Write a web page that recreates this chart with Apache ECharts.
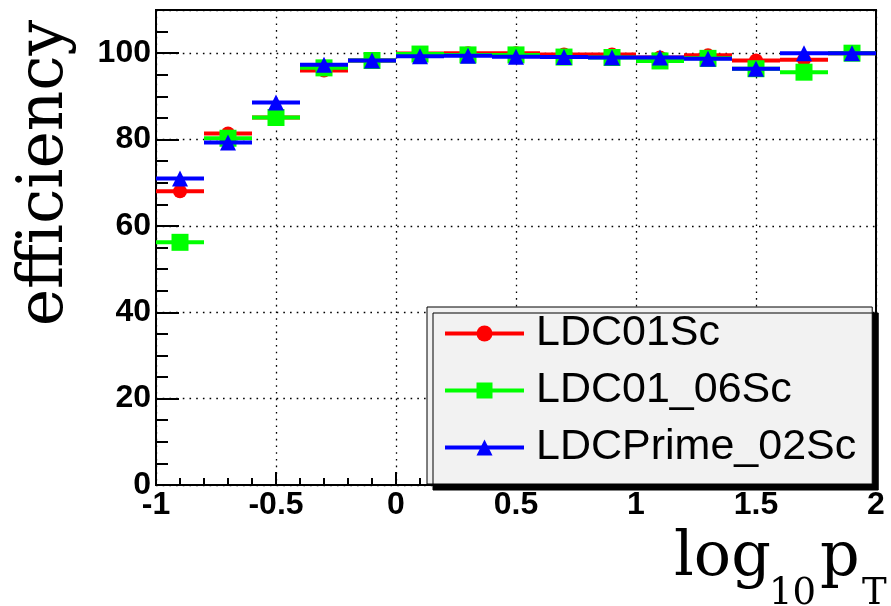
<!DOCTYPE html>
<html>
<head>
<meta charset="utf-8">
<script src="https://cdn.jsdelivr.net/npm/echarts@6/dist/echarts.min.js"></script>
<style>
  html, body { margin: 0; padding: 0; background: #fff; }
  #chart { width: 891px; height: 606px; }
</style>
</head>
<body>
<div id="chart"></div>
<script>
// Bin centres of log10(pT); every bin is 0.2 wide
const binCenters = [-0.9, -0.7, -0.5, -0.3, -0.1, 0.1, 0.3, 0.5, 0.7, 0.9, 1.1, 1.3, 1.5, 1.7, 1.9];
const binHalfWidth = 0.1;

// Efficiency (%) per bin for each detector model
const effLDC01Sc      = [68.0, 81.4, 85.1, 96.0, 98.3, 99.9, 100.0, 100.0, 99.7, 99.7, 99.0, 99.5, 98.3, 98.5, 100.0];
const effLDC01_06Sc   = [56.2, 80.3, 85.1, 96.6, 98.3, 99.8, 99.6, 99.6, 99.1, 99.0, 98.2, 98.8, 96.4, 95.6, 100.0];
const effLDCPrime02Sc = [71.0, 79.3, 88.6, 97.3, 98.3, 99.3, 99.4, 99.2, 99.1, 99.0, 99.0, 98.7, 96.4, 100.0, 100.0];

const seriesNames = ['LDC01Sc', 'LDC01_06Sc', 'LDCPrime_02Sc'];
const seriesValues = [effLDC01Sc, effLDC01_06Sc, effLDCPrime02Sc];
const seriesColors = ['#ff0000', '#00ff00', '#0000ff'];
const seriesSymbols = ['circle', 'rect', 'triangle'];
const seriesSymbolSizes = [14, 17, 16];

const xTickLabels = ['-1', '-0.5', '0', '0.5', '1', '1.5', '2'];
const yTickLabels = ['0', '20', '40', '60', '80', '100'];

// Each bin becomes a horizontal segment (x error bar) with the marker at its centre;
// an empty point after each bin keeps neighbouring bins unconnected.
function binSegments(values) {
  const out = [];
  binCenters.forEach(function (c, i) {
    const v = values[i];
    out.push({ value: [c - binHalfWidth, v], symbol: 'none' });
    out.push({ value: [c, v] });
    out.push({ value: [c + binHalfWidth, v], symbol: 'none' });
    out.push({ value: [c + binHalfWidth, '-'] });
  });
  return out;
}

const chart = echarts.init(document.getElementById('chart'), null, { renderer: 'canvas' });

const tickFont = { fontFamily: '"Liberation Sans", Arial, sans-serif', fontWeight: 'bold', fontSize: 32, color: '#000' };
const dotted = { color: '#000', width: 1.3, type: [1.6, 5.1] };

const option = {
  animation: false,
  backgroundColor: '#fff',
  grid: {
    left: 156, right: 15, top: 10, bottom: 121,
    show: true, borderColor: '#000', borderWidth: 2, backgroundColor: 'transparent'
  },
  xAxis: {
    type: 'value', min: -1, max: 2, interval: 0.5,
    axisLine: { show: true, onZero: false, lineStyle: { color: '#000', width: 2 } },
    axisTick: { inside: true, length: 13, lineStyle: { color: '#000', width: 2 } },
    minorTick: { show: true, splitNumber: 5, length: 7, lineStyle: { color: '#000', width: 2 } },
    splitLine: { show: true, lineStyle: dotted },
    axisLabel: Object.assign({ margin: 4, formatter: function (v) {
      const idx = Math.round((v + 1) / 0.5);
      return xTickLabels[idx] !== undefined ? xTickLabels[idx] : '';
    } }, tickFont)
  },
  yAxis: [
    {
      type: 'value', min: 0, max: 110, interval: 20,
      axisLine: { show: true, onZero: false, lineStyle: { color: '#000', width: 2 } },
      axisTick: { inside: true, length: 23, lineStyle: { color: '#000', width: 2 } },
      splitLine: { show: true, lineStyle: dotted },
      axisLabel: Object.assign({ margin: 5, formatter: function (v) {
        const idx = Math.round(v / 20);
        return (v % 20 === 0 && yTickLabels[idx] !== undefined) ? yTickLabels[idx] : '';
      } }, tickFont)
    },
    {
      // finer inner ticks every 5 %
      type: 'value', min: 0, max: 110, interval: 5, position: 'left',
      axisLine: { show: false, onZero: false },
      axisTick: { show: true, inside: true, length: 12, lineStyle: { color: '#000', width: 2 } },
      splitLine: { show: false },
      axisLabel: { show: false }
    }
  ],
  legend: {
    orient: 'vertical',
    left: 427, top: 307,
    data: seriesNames,
    itemWidth: 79, itemHeight: 20, itemGap: 14,
    padding: [5, 16, 15, 16],
    backgroundColor: '#f2f2f2',
    borderColor: '#000', borderWidth: 1,
    shadowColor: '#000', shadowBlur: 0, shadowOffsetX: 6, shadowOffsetY: 6,
    lineStyle: { width: 4 },
    textStyle: {
      fontFamily: '"Liberation Sans", Arial, sans-serif', fontSize: 43, lineHeight: 43,
      color: '#000', padding: [0, 0, 0, 7]
    },
    selectedMode: false,
    z: 10
  },
  series: seriesNames.map(function (name, k) {
    return {
      name: name,
      type: 'line',
      xAxisIndex: 0, yAxisIndex: 0,
      data: binSegments(seriesValues[k]),
      connectNulls: false,
      symbol: seriesSymbols[k],
      symbolSize: seriesSymbolSizes[k],
      showSymbol: true,
      lineStyle: { color: seriesColors[k], width: 4 },
      itemStyle: { color: seriesColors[k], borderWidth: 0 },
      emphasis: { disabled: true },
      silent: true,
      z: 2 + k
    };
  }),
  graphic: [
    {
      type: 'text', x: 46, y: 173, rotation: Math.PI / 2,
      style: { text: 'efficiency', fontFamily: '"DejaVu Serif", serif', fontSize: 63, fill: '#000', align: 'center', verticalAlign: 'middle' }
    },
    {
      type: 'text', x: 674, y: 559,
      style: { text: 'log', fontFamily: '"DejaVu Serif", serif', fontSize: 62, fill: '#000', align: 'left', verticalAlign: 'middle' }
    },
    {
      type: 'text', x: 769, y: 594,
      style: { text: '10', fontFamily: '"DejaVu Serif", serif', fontSize: 37, fill: '#000', align: 'left', verticalAlign: 'middle' }
    },
    {
      type: 'text', x: 820, y: 559,
      style: { text: 'p', fontFamily: '"DejaVu Serif", serif', fontSize: 62, fill: '#000', align: 'left', verticalAlign: 'middle' }
    },
    {
      type: 'text', x: 862, y: 594,
      style: { text: 'T', fontFamily: '"DejaVu Serif", serif', fontSize: 37, fill: '#000', align: 'left', verticalAlign: 'middle' }
    }
  ]
};

chart.setOption(option);
</script>
</body>
</html>
